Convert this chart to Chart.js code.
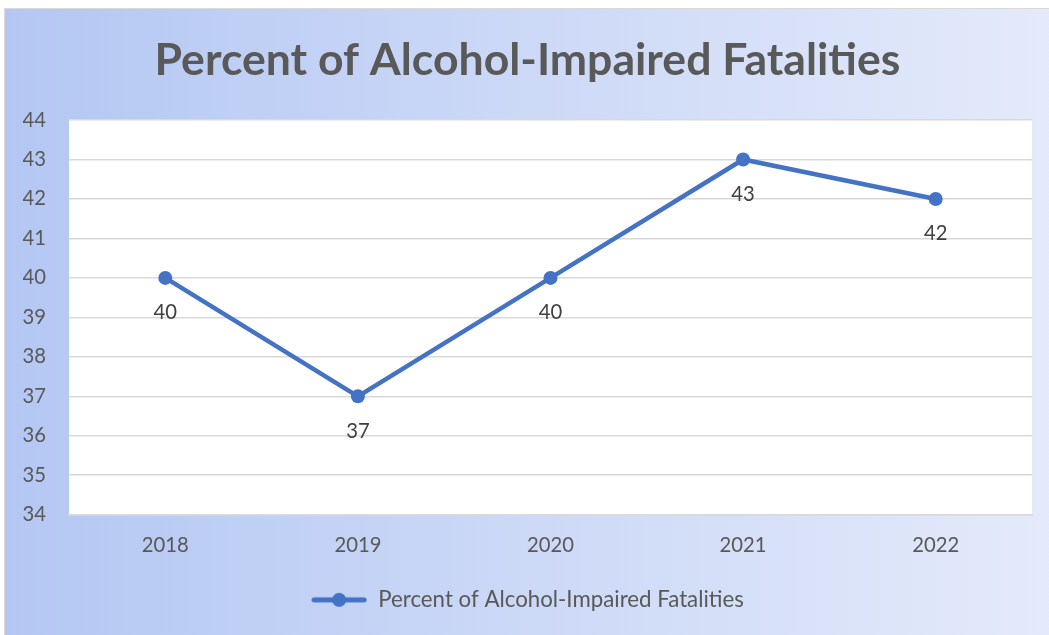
<!DOCTYPE html>
<html>
<head>
<meta charset="utf-8">
<script src="https://cdn.jsdelivr.net/npm/chart.js"></script>
<style>
  body { margin: 0; background: #ffffff; }
  #box {
    position: absolute; left: 4px; top: 8px; width: 1045px; height: 627px;
    border-left: 1px solid #d9d9d9; border-top: 1px solid #d9d9d9;
    background: linear-gradient(to right, #b4c7f3, #e4eafa);
  }
  #chart { position: absolute; left: 0; top: 0; }
</style>
</head>
<body>
<div id="box"><canvas id="chart" width="1044" height="626"></canvas></div>
<script>
// chart data
const years = ["2018", "2019", "2020", "2021", "2022"];
const percents = [40, 37, 40, 43, 42];
const seriesName = "Percent of Alcohol-Impaired Fatalities";
const titleText = "Percent of Alcohol-Impaired Fatalities";

const FAMILY = "Lato, 'Open Sans', sans-serif";
const BLUE = "#4472C4";

// pick a font size so the text gets the same width as in the picture
function fitSize(text, weight, width) {
  const c = document.createElement("canvas").getContext("2d");
  c.font = weight + " 100px " + FAMILY;
  return 100 * width / c.measureText(text).width;
}
const titleSize = fitSize(titleText, "bold", 746);
const legendSize = fitSize(seriesName, "normal", 366);
const tickSize = fitSize("2018", "normal", 47);

// legend marker: line with a dot in the middle
function makeMarker() {
  const cv = document.createElement("canvas");
  cv.width = 56; cv.height = 16;
  const c = cv.getContext("2d");
  c.strokeStyle = BLUE; c.lineWidth = 5; c.lineCap = "round";
  c.beginPath(); c.moveTo(3, 8); c.lineTo(53, 8); c.stroke();
  c.fillStyle = BLUE;
  c.beginPath(); c.arc(28, 8, 7, 0, Math.PI * 2); c.fill();
  return cv;
}

const plotBg = {
  id: "plotBg",
  beforeDraw(chart) {
    const a = chart.chartArea;
    chart.ctx.save();
    chart.ctx.fillStyle = "#ffffff";
    chart.ctx.fillRect(a.left, a.top, a.right - a.left, a.bottom - a.top);
    chart.ctx.restore();
  }
};

const valueLabels = {
  id: "valueLabels",
  afterDatasetsDraw(chart) {
    const ctx = chart.ctx;
    const meta = chart.getDatasetMeta(0);
    ctx.save();
    ctx.font = tickSize + "px " + FAMILY;
    ctx.fillStyle = "#404040";
    ctx.textAlign = "center";
    ctx.textBaseline = "middle";
    meta.data.forEach(function(pt, i) {
      ctx.fillText(String(percents[i]), pt.x, pt.y + 35);
    });
    ctx.restore();
  }
};

new Chart(document.getElementById("chart"), {
  type: "line",
  data: {
    labels: years,
    datasets: [{
      label: seriesName,
      data: percents,
      borderColor: BLUE,
      backgroundColor: BLUE,
      borderWidth: 4.5,
      pointRadius: 7,
      pointBorderWidth: 0,
      pointBackgroundColor: BLUE,
      tension: 0
    }]
  },
  options: {
    responsive: false,
    animation: false,
    layout: { padding: { left: 18, right: 17, top: 0, bottom: 14 } },
    plugins: {
      title: {
        display: true,
        text: titleText,
        color: "#595959",
        font: { family: FAMILY, size: titleSize, weight: "bold", lineHeight: "48px" },
        padding: { top: 28, bottom: 35 }
      },
      legend: {
        position: "bottom",
        labels: {
          usePointStyle: true,
          pointStyle: makeMarker(),
          pointStyleWidth: 56,
          color: "#595959",
          font: { family: FAMILY, size: legendSize },
          padding: 10
        }
      },
      tooltip: { enabled: false }
    },
    scales: {
      x: {
        offset: true,
        grid: { display: false, drawTicks: false, offset: true },
        border: { display: true, color: "#d9d9d9", width: 1.5 },
        ticks: { color: "#595959", font: { family: FAMILY, size: tickSize }, padding: 19 },
        afterFit(scale) { scale.height = 64; }
      },
      y: {
        min: 34,
        max: 44,
        grid: { color: "#d9d9d9", lineWidth: 1.5, drawTicks: false },
        border: { display: false },
        ticks: { stepSize: 1, color: "#595959", font: { family: FAMILY, size: tickSize }, padding: 23 },
        afterFit(scale) { scale.width = 46; }
      }
    }
  },
  plugins: [plotBg, valueLabels]
});
</script>
</body>
</html>
